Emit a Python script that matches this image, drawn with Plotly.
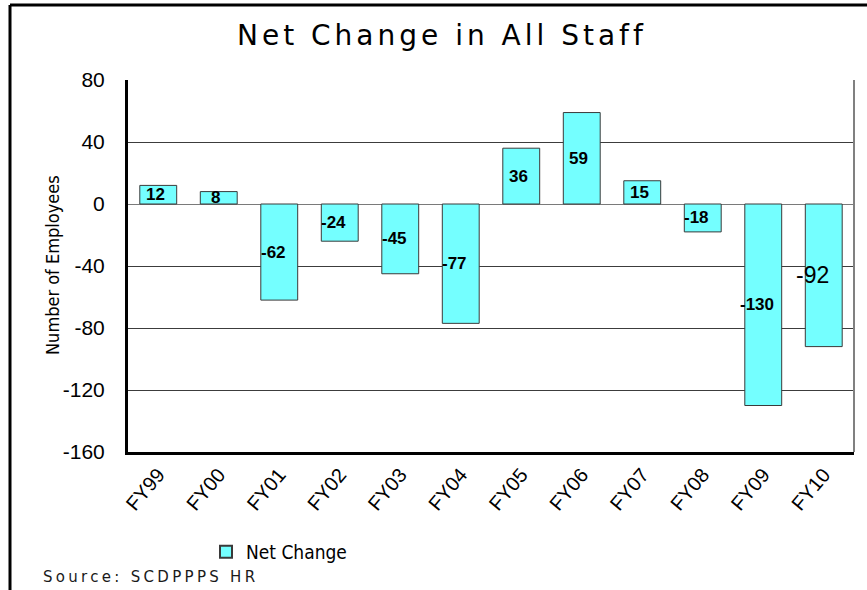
import plotly.graph_objects as go

# Fiscal years and net change in staff headcount
years = ["FY99", "FY00", "FY01", "FY02", "FY03", "FY04",
         "FY05", "FY06", "FY07", "FY08", "FY09", "FY10"]
net_change = [12, 8, -62, -24, -45, -77, 36, 59, 15, -18, -130, -92]

y_ticks = [80, 40, 0, -40, -80, -120, -160]

W, H = 867, 590
L, R, T, B = 128, 13, 80, 138  # plot-area margins in pixels
PW, PH = W - L - R, H - T - B

SANS = "Liberation Sans, Arial, sans-serif"
WIDE = "DejaVu Sans, Verdana, sans-serif"
NARROW = "Liberation Sans Narrow, DejaVu Sans Condensed, Liberation Sans, sans-serif"


def px_x(px):
    """pixel column -> paper x"""
    return (px - L) / PW


def px_y(py):
    """pixel row -> paper y"""
    return (H - B - py) / PH


def spaced(text, px):
    """wrap text in a span with extra letter spacing"""
    return f'<span style="letter-spacing:{px}px">{text}</span>'


fig = go.Figure()

fig.add_trace(go.Bar(
    x=years,
    y=net_change,
    name="Net Change",
    marker=dict(color="#74FFFF", line=dict(color="#3a3a3a", width=1)),
    hoverinfo="x+y",
))

# value labels placed at the middle of each bar
annotations = []
for i, (yr, v) in enumerate(zip(years, net_change)):
    last = i == len(years) - 1
    annotations.append(dict(
        x=yr, y=v / 2, xref="x", yref="y",
        text=str(v) if last else f"<b>{v}</b>",
        showarrow=False,
        xanchor="center", yanchor="middle",
        xshift=-11 if last else (-6 if v < 0 else -3),
        font=dict(family=SANS, size=23 if last else 17, color="#000000"),
    ))

# chart title
annotations.append(dict(
    x=px_x(442), y=px_y(35), xref="paper", yref="paper",
    xanchor="center", yanchor="middle",
    text=spaced("Net Change in All Staff", 4), showarrow=False,
    font=dict(family=WIDE, size=28, color="#000000"),
))

# y-axis title (narrow face)
annotations.append(dict(
    x=px_x(52), y=px_y(265), xref="paper", yref="paper",
    xanchor="center", yanchor="middle",
    text="Number of Employees", showarrow=False, textangle=-90,
    font=dict(family=NARROW, size=18, color="#000000"),
))

# source note
annotations.append(dict(
    x=px_x(41), y=px_y(577), xref="paper", yref="paper",
    xanchor="left", yanchor="middle",
    text=spaced("Source: SCDPPPS HR", 3.3), showarrow=False,
    font=dict(family=WIDE, size=15, color="#1a1a1a"),
))

shapes = [
    # outer frame: top and left rules
    dict(type="line", xref="paper", yref="paper",
         x0=px_x(10), x1=px_x(867), y0=px_y(5), y1=px_y(5),
         line=dict(color="#000000", width=3)),
    dict(type="line", xref="paper", yref="paper",
         x0=px_x(10), x1=px_x(10), y0=px_y(5), y1=px_y(592),
         line=dict(color="#000000", width=3)),
    # right edge of plot area
    dict(type="line", xref="paper", yref="paper",
         x0=1, x1=1, y0=0, y1=1,
         line=dict(color="#808080", width=2)),
]

fig.update_layout(
    width=W, height=H,
    margin=dict(l=L, r=R, t=T, b=B, autoexpand=False),
    paper_bgcolor="#ffffff",
    plot_bgcolor="#ffffff",
    bargap=0.39,
    showlegend=True,
    legend=dict(
        orientation="h", x=px_x(206), y=px_y(552), xanchor="left", yanchor="middle",
        font=dict(family=NARROW, size=19, color="#000000"),
        itemsizing="constant",
    ),
    annotations=annotations,
    shapes=shapes,
    xaxis=dict(
        type="category",
        tickangle=-50,
        tickfont=dict(family=SANS, size=20, color="#000000"),
        showline=True, linecolor="#000000", linewidth=3,
        showgrid=False, ticks="",
    ),
    yaxis=dict(
        range=[-160, 80],
        tickvals=y_ticks,
        ticktext=[str(t) for t in y_ticks],
        tickfont=dict(family=SANS, size=21, color="#000000"),
        showline=True, linecolor="#000000", linewidth=3,
        showgrid=True, gridcolor="#3c3c3c", gridwidth=1,
        zeroline=True, zerolinecolor="#7a7a7a", zerolinewidth=1,
        ticks="outside", ticklen=16, tickcolor="rgba(0,0,0,0)",
    ),
)

fig.write_html("out.html")
